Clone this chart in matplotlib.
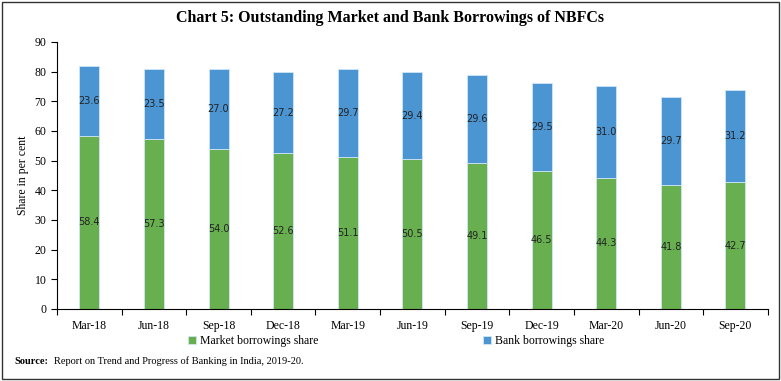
import matplotlib.pyplot as plt
import numpy as np

# dados
categorias = ['Mar-18', 'Jun-18', 'Sep-18', 'Dec-18', 'Mar-19', 'Jun-19',
              'Sep-19', 'Dec-19', 'Mar-20', 'Jun-20', 'Sep-20']
mercado = [58.4, 57.3, 54.0, 52.6, 51.1, 50.5, 49.1, 46.5, 44.3, 41.8, 42.7]
banco = [23.6, 23.5, 27.0, 27.2, 29.7, 29.4, 29.6, 29.5, 31.0, 29.7, 31.2]
yticks = list(range(0, 100, 10))

verde = '#68B04F'
azul = '#4B95D3'
serif = ['Liberation Serif', 'DejaVu Serif']

fig = plt.figure(figsize=(7.81, 3.81), dpi=100)
ax = fig.add_axes([0.073, 0.189, 0.910, 0.701])

x = np.arange(len(categorias))
b1 = ax.bar(x, mercado, width=0.31, color=verde, edgecolor='#cfe6f5', linewidth=0.6,
            label='Market borrowings share')
b2 = ax.bar(x, banco, width=0.31, bottom=mercado, color=azul, edgecolor='#cfe6f5',
            linewidth=0.6, label='Bank borrowings share')

ax.bar_label(b1, labels=[f'{v:.1f}' for v in mercado], label_type='center',
             fontsize=7, color='#222222')
ax.bar_label(b2, labels=[f'{v:.1f}' for v in banco], label_type='center',
             fontsize=7, color='#222222')

ax.set_xlim(-0.5, len(categorias) - 0.5)
ax.set_ylim(0, 90)
ax.set_yticks(yticks)
ax.set_xticks(x)
ax.set_xticklabels(categorias, fontfamily=serif, fontsize=8.5)
ax.set_xticks(np.arange(-0.5, len(categorias)), minor=True)
ax.tick_params(axis='x', which='major', length=0, pad=8)
ax.tick_params(axis='x', which='minor', length=4, width=0.8)
ax.tick_params(axis='y', length=4, width=0.8, labelsize=8.5)
for lab in ax.get_yticklabels():
    lab.set_fontfamily(serif)
ax.set_ylabel('Share in per cent', fontfamily=serif, fontsize=8.5, labelpad=4)
for s in ['top', 'right']:
    ax.spines[s].set_visible(False)

fig.text(0.5, 0.953, 'Chart 5: Outstanding Market and Bank Borrowings of NBFCs',
         ha='center', va='center', fontfamily=serif, fontsize=11.5, fontweight='bold')

fig.legend(handles=[b1, b2], loc='center', bbox_to_anchor=(0.507, 0.105), ncol=2,
           frameon=False, prop={'family': serif, 'size': 8.5}, handlelength=0.7,
           handleheight=0.7, handletextpad=0.3, columnspacing=14)

fig.text(0.019, 0.052, 'Source:', fontfamily=serif, fontsize=7.5, fontweight='bold',
         va='center')
fig.text(0.069, 0.052, 'Report on Trend and Progress of Banking in India, 2019-20.',
         fontfamily=serif, fontsize=7.5, va='center')

# moldura
fig.patches.append(plt.Rectangle((0.002, 0.005), 0.996, 0.99, transform=fig.transFigure,
                                 fill=False, edgecolor='#333333', linewidth=1))

fig.savefig('out.png', dpi=100)
